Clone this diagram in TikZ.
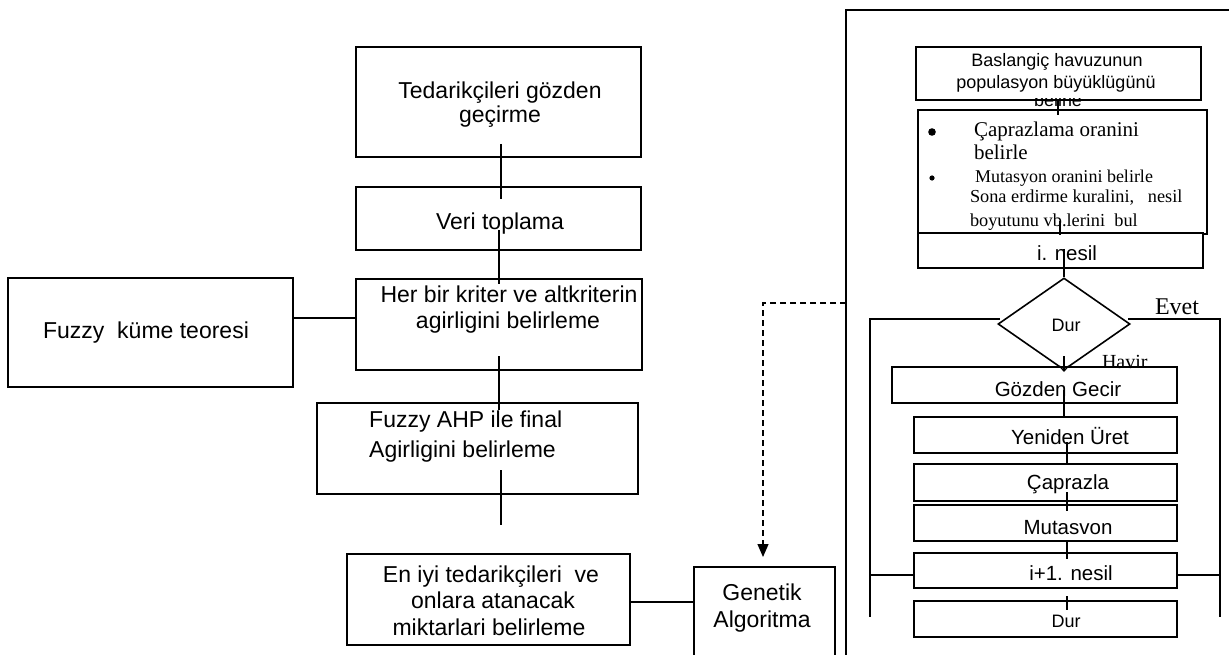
\documentclass[tikz,border=0pt]{standalone}
\usepackage{fontspec}
\setmainfont{Liberation Serif}
\newfontfamily\arial{Liberation Sans}
\usetikzlibrary{shapes.geometric,arrows.meta}
\begin{document}
\begin{tikzpicture}[x=1pt,y=-1pt,
  box/.style={draw,line width=1.6pt,inner sep=0pt,fill=white},
  ln/.style={line width=1.3pt},
  ta/.style={font=\arial\fontsize{23}{23}\selectfont,inner sep=0pt,anchor=base},
  tb/.style={font=\arial\fontsize{20.5}{20.5}\selectfont,inner sep=0pt,anchor=base},
  tc/.style={font=\arial\fontsize{18}{18}\selectfont,inner sep=0pt,anchor=base},
  tm/.style={inner sep=0pt,outer sep=0pt,anchor=base west}]
\useasboundingbox (0,0) rectangle (1229,655);
\fill[white] (0,0) rectangle (1229,655);

% ---------- left column ----------
\node[box,minimum width=285pt,minimum height=110pt] (ted) at (498.5,102) {};
\node[ta] (tedA) at (500,99) {Tedarikçileri gözden};
\node[ta] (tedB) at (500,123) {geçirme};

\node[box,minimum width=285pt,minimum height=63pt] (veri) at (498.5,218.5) {};
\node[ta] (veriA) at (500,230) {Veri toplama};

\node[box,minimum width=286pt,minimum height=91pt] (her) at (499,324.5) {};
\node[ta] (herA) at (509,302) {Her bir kriter ve altkriterin};
\node[ta] (herB) at (508,328) {agirligini belirleme};

\node[box,minimum width=285pt,minimum height=109pt] (fuz) at (150.5,332.5) {};
\node[ta] (fuzA) at (146,338) {Fuzzy~ küme teoresi};

\node[box,minimum width=321pt,minimum height=91pt] (ahp) at (477.5,448.5) {};
\node[ta,anchor=base west] (ahpA) at (369,427) {Fuzzy AHP ile final};
\node[ta,anchor=base west] (ahpB) at (369,457) {Agirligini belirleme};

\node[box,minimum width=283pt,minimum height=91pt] (eniyi) at (488.5,599.5) {};
\node[ta] (eniA) at (491,582) {En iyi tedarikçileri~ ve};
\node[ta] (eniB) at (493,608) {onlara atanacak};
\node[ta] (eniC) at (489,635) {miktarlari belirleme};

\node[box,minimum width=141pt,minimum height=133pt] (gen) at (764.5,633.5) {};
\node[ta] (genA) at (762,600) {Genetik};
\node[ta] (genB) at (762,627) {Algoritma};

% left connectors
\draw[ln] (501,144) -- (501,199);
\draw[ln] (499,230) -- (499,284);
\draw[ln] (499,356) -- (499,410);
\draw[ln] (501,470) -- (501,525);
\draw[ln] (fuz.east |- 0,318) -- (her.west |- 0,318);
\draw[ln] (eniyi.east |- 0,602) -- (gen.west |- 0,602);

% frame
\draw[ln] (846,660) -- (846,10) -- (1235,10);
\coordinate (tip) at (763,557);
\draw[ln,dash pattern=on 6pt off 4pt,-{Triangle[width=11pt,length=13pt]}] (846,303) -- (763,303) -- (tip);

% ---------- right column ----------
\node[box,minimum width=285pt,minimum height=53pt] (bas) at (1058.5,73.5) {};
\node[tc] (basA) at (1057,67) {Baslangiç havuzunun};
\node[tc] (basB) at (1056,89) {populasyon büyüklügünü};
\begin{scope}
\clip (900,98.5) rectangle (1210,112);
\node[tc] (basC) at (1058,107) {belirle};
\end{scope}

\node[box,minimum width=289pt,minimum height=124pt] (bul) at (1062.5,172) {};
\fill (932,132) circle (3.8pt);
\fill (932,178) circle (2.6pt);
\node[tm] (bulA) at (974,137) {\fontsize{21}{21}\selectfont Çaprazlama oranini};
\node[tm] (bulB) at (974,160) {\fontsize{21}{21}\selectfont belirle};
\node[tm] (bulC) at (975,183) {\fontsize{18}{18}\selectfont Mutasyon oranini belirle};
\node[tm] (bulD) at (970,203) {\fontsize{18.3}{18.3}\selectfont Sona erdirme kuralini,~~ nesil};
\node[tm] (bulE) at (970,227) {\fontsize{18.3}{18.3}\selectfont boyutunu vb.lerini~ bul};

\node[box,minimum width=285pt,minimum height=35pt] (ines) at (1060.5,250.5) {};
\node[tb] (inesA) at (1067,261) {i. nesil};

\node[box,diamond,minimum width=132pt,minimum height=92pt] (dia) at (1064,324) {};
\node[tc] (diaA) at (1066,331) {Dur};

\node[box,minimum width=285pt,minimum height=36pt] (goz) at (1034.5,385) {};
\node[tb] (gozA) at (1058,396) {Gözden Gecir};
\node[box,minimum width=263pt,minimum height=36pt] (yen) at (1045.5,435) {};
\node[tb] (yenA) at (1070,444) {Yeniden Üret};
\node[box,minimum width=263pt,minimum height=37pt] (cap) at (1045.5,482.5) {};
\node[tb] (capA) at (1068,489) {Çaprazla};
\node[box,minimum width=263pt,minimum height=36pt] (mut) at (1045.5,523) {};
\node[tb] (mutA) at (1068,534) {Mutasvon};
\node[box,minimum width=263pt,minimum height=35pt] (ione) at (1045.5,570.5) {};
\node[tb] (ioneA) at (1071,580) {i+1. nesil};
\node[box,minimum width=263pt,minimum height=36pt] (dur) at (1045.5,619) {};
\node[tc] (durA) at (1066,627) {Dur};

\node[tm] (evet) at (1155,314) {\fontsize{24}{24}\selectfont Evet};
\node[tm] (havir) at (1102,368) {\fontsize{20}{20}\selectfont Havir};

% right connectors
\draw[ln] (1058,100) -- (1058,115);
\draw[ln] (1060,221) -- (1060,235);
\draw[ln] (1064,249) -- (dia.north);
\draw[ln,-{Straight Barb[length=5pt,width=9pt]}] (1064,356) -- (1064,372);
\draw[ln] (1064,390) -- (1064,416);
\draw[ln] (1067,442) -- (1067,464);
\draw[ln] (1067,492) -- (1067,511);
\draw[ln] (1067,542) -- (1067,559);
\draw[ln] (1067,596) -- (1067,610);
\draw[ln] (1000,319) -- (870,319) -- (870,617);
\draw[ln] (1128,319) -- (1220,319) -- (1220,617);
\draw[ln] (870,575) -- (ione.west |- 0,575);
\draw[ln] (ione.east |- 0,575) -- (1220,575);
\end{tikzpicture}
\end{document}
